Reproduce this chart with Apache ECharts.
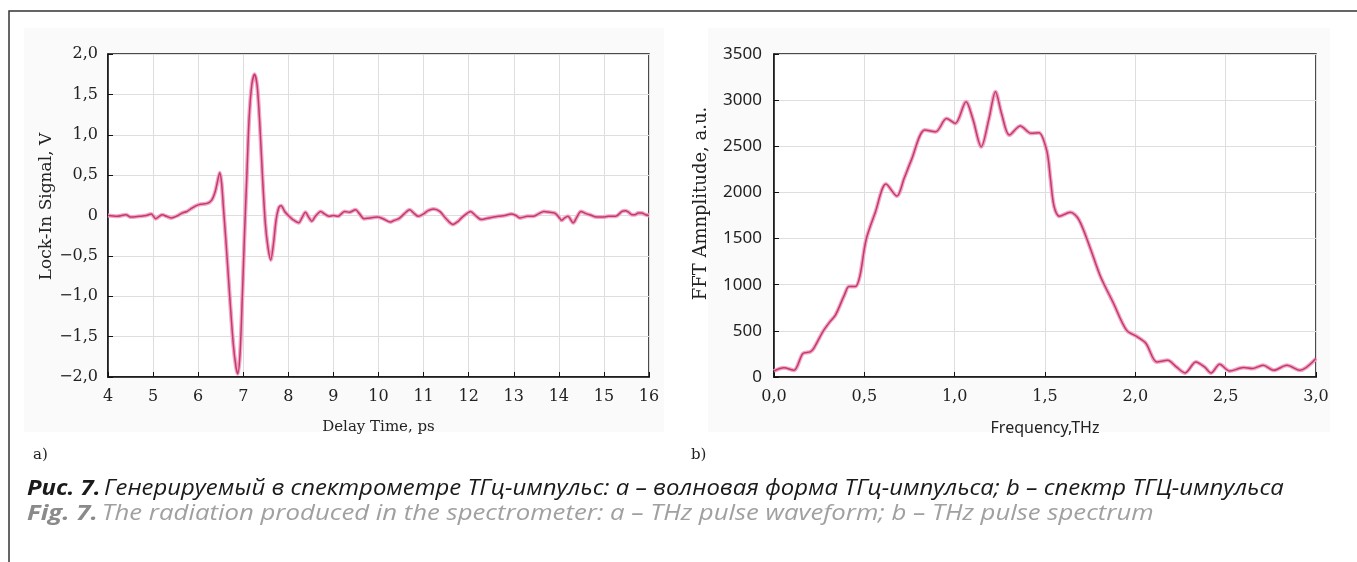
<!DOCTYPE html>
<html>
<head>
<meta charset="utf-8">
<script src="https://cdn.jsdelivr.net/npm/echarts@6/dist/echarts.min.js"></script>
<style>
  html, body { margin: 0; padding: 0; background: #fff; }
  #main { width: 1357px; height: 562px; }
</style>
</head>
<body>
<div id="main"></div>
<script>
  // a) THz pulse waveform
  const delayTime = [4.0, 4.2, 4.4, 4.5, 4.7, 4.85, 4.96, 5.06, 5.2, 5.3, 5.4, 5.55, 5.64, 5.75, 5.83, 5.95, 6.05, 6.2, 6.3, 6.38,
    6.44, 6.48, 6.52, 6.56, 6.62, 6.7, 6.78, 6.84, 6.88, 6.93, 6.98, 7.03, 7.08, 7.13, 7.19, 7.25, 7.31, 7.37, 7.43, 7.49,
    7.55, 7.61, 7.67, 7.73, 7.79, 7.84, 7.92, 8.0, 8.1, 8.23, 8.3, 8.38, 8.45, 8.52, 8.6, 8.72, 8.8, 8.9, 9.0, 9.1,
    9.25, 9.35, 9.49, 9.58, 9.68, 9.8, 9.97, 10.1, 10.26, 10.35, 10.45, 10.57, 10.69, 10.8, 10.88, 11.0, 11.1, 11.22, 11.36, 11.5,
    11.65, 11.75, 11.84, 11.95, 12.04, 12.15, 12.28, 12.45, 12.66, 12.8, 12.95, 13.05, 13.14, 13.3, 13.43, 13.55, 13.67, 13.8, 13.91, 14.0,
    14.06, 14.13, 14.2, 14.32, 14.4, 14.49, 14.58, 14.68, 14.85, 14.97, 15.1, 15.26, 15.4, 15.48, 15.55, 15.62, 15.69, 15.76, 15.84, 15.92, 16.0];
  const lockInSignal = [0.0, -0.01, 0.01, -0.02, -0.01, 0.0, 0.02, -0.04, 0.01, -0.01, -0.03, 0.0, 0.03, 0.05, 0.08, 0.12, 0.14, 0.15, 0.19, 0.3,
    0.45, 0.53, 0.4, 0.1, -0.35, -1.0, -1.6, -1.88, -1.96, -1.7, -1.0, -0.2, 0.5, 1.2, 1.62, 1.75, 1.6, 1.1, 0.45, -0.1,
    -0.4, -0.55, -0.35, -0.05, 0.1, 0.12, 0.05, 0.0, -0.05, -0.09, -0.03, 0.04, -0.02, -0.07, -0.01, 0.05, 0.02, -0.01, 0.0, -0.01,
    0.05, 0.04, 0.07, 0.02, -0.04, -0.03, -0.02, -0.04, -0.08, -0.06, -0.04, 0.02, 0.07, 0.02, -0.01, 0.02, 0.06, 0.08, 0.05, -0.04,
    -0.11, -0.08, -0.03, 0.02, 0.05, 0.0, -0.05, -0.03, -0.01, 0.0, 0.02, 0.0, -0.03, -0.01, -0.01, 0.02, 0.05, 0.04, 0.03, -0.02,
    -0.06, -0.03, -0.01, -0.09, -0.02, 0.05, 0.03, 0.01, -0.02, -0.02, -0.01, -0.01, 0.05, 0.06, 0.04, 0.01, 0.01, 0.03, 0.03, 0.01, 0.0];

  // b) THz pulse spectrum
  const frequency = [0.0, 0.055, 0.11, 0.16, 0.2, 0.22, 0.27, 0.31, 0.34, 0.39, 0.415, 0.45, 0.475, 0.51, 0.56, 0.62, 0.68, 0.72, 0.76, 0.835,
    0.895, 0.955, 1.003, 1.063, 1.1, 1.147, 1.19, 1.226, 1.26, 1.303, 1.363, 1.423, 1.466, 1.51, 1.53, 1.55, 1.58, 1.64, 1.687, 1.747,
    1.807, 1.879, 1.951, 2.011, 2.059, 2.119, 2.179, 2.227, 2.275, 2.335, 2.383, 2.419, 2.467, 2.522, 2.599, 2.647, 2.707, 2.767, 2.839, 2.911, 3.0];
  const fftAmplitude = [65, 100, 73, 255, 272, 310, 490, 600, 670, 890, 980, 980, 1090, 1490, 1780, 2090, 1960, 2150, 2350, 2676,
    2658, 2800, 2748, 2983, 2800, 2495, 2800, 3091, 2850, 2621, 2720, 2640, 2647, 2450, 2150, 1850, 1742, 1786, 1706, 1415,
    1089, 799, 508, 436, 363, 163, 181, 109, 44, 163, 109, 44, 138, 65, 102, 91, 127, 73, 127, 73, 200];

  const waveData = delayTime.map((t, i) => [t, lockInSignal[i]]);
  const spectrumData = frequency.map((f, i) => [f, fftAmplitude[i]]);

  const serif = 'DejaVu Serif';
  const sans = 'Noto Sans';

  function commaNum(v) {
    if (v === 0) return '0';
    return (v < 0 ? '\u2212' : '') + Math.abs(v).toFixed(1).replace('.', ',');
  }

  const axisCommon = {
    axisLine: {onZero: false, lineStyle: {color: '#111', width: 1.5}},
    axisTick: {inside: true, length: 5, lineStyle: {color: '#111'}},
    splitLine: {show: true, lineStyle: {color: '#dedede', width: 1}},
    nameLocation: 'middle'
  };

  const myChart = echarts.init(document.getElementById('main'));
  myChart.setOption({
    animation: false,
    grid: [
      {left: 108, top: 54, width: 541, height: 323, show: true, borderColor: '#111', borderWidth: 1.5, backgroundColor: '#fff'},
      {left: 774, top: 54, width: 542, height: 323, show: true, borderColor: '#111', borderWidth: 1.5, backgroundColor: '#fff'}
    ],
    xAxis: [
      Object.assign({}, axisCommon, {
        gridIndex: 0, type: 'value', min: 4, max: 16, interval: 1,
        name: 'Delay Time, ps', nameGap: 43,
        nameTextStyle: {fontFamily: serif, fontSize: 15, color: '#222'},
        axisLabel: {fontFamily: serif, fontSize: 16, color: '#222', margin: 12}
      }),
      Object.assign({}, axisCommon, {
        gridIndex: 1, type: 'value', min: 0, max: 3, interval: 0.5,
        name: 'Frequency,THz', nameGap: 43,
        nameTextStyle: {fontFamily: sans, fontSize: 16, color: '#222'},
        axisLabel: {fontFamily: serif, fontSize: 16, color: '#222', margin: 12,
          formatter: v => v.toFixed(1).replace('.', ',')}
      })
    ],
    yAxis: [
      Object.assign({}, axisCommon, {
        gridIndex: 0, type: 'value', min: -2, max: 2, interval: 0.5,
        name: 'Lock-In Signal, V', nameGap: 52,
        nameTextStyle: {fontFamily: serif, fontSize: 17, color: '#222', padding: [0, 0, 0, 18]},
        axisLabel: {fontFamily: serif, fontSize: 16, color: '#222', margin: 10, formatter: commaNum}
      }),
      Object.assign({}, axisCommon, {
        gridIndex: 1, type: 'value', min: 0, max: 3500, interval: 500,
        name: 'FFT Amnplitude, a.u.', nameGap: 64,
        nameTextStyle: {fontFamily: serif, fontSize: 18, color: '#222', padding: [0, 0, 0, 24]},
        axisLabel: {fontFamily: sans, fontSize: 17, color: '#222', margin: 12, formatter: v => String(v)}
      })
    ],
    series: [
      {type: 'line', xAxisIndex: 0, yAxisIndex: 0, data: waveData, smooth: 0.3, showSymbol: false,
        lineStyle: {color: '#f2a6c4', width: 4}},
      {type: 'line', xAxisIndex: 0, yAxisIndex: 0, data: waveData, smooth: 0.3, showSymbol: false,
        lineStyle: {color: '#c23a70', width: 1.5}},
      {type: 'line', xAxisIndex: 1, yAxisIndex: 1, data: spectrumData, smooth: 0.3, showSymbol: false,
        lineStyle: {color: '#f2a6c4', width: 4}},
      {type: 'line', xAxisIndex: 1, yAxisIndex: 1, data: spectrumData, smooth: 0.3, showSymbol: false,
        lineStyle: {color: '#c23a70', width: 1.5}}
    ],
    graphic: [
      {type: 'polyline', z: -1, shape: {points: [[9, 562], [9, 11], [1357, 11]]},
        style: {stroke: '#333', lineWidth: 1.5, fill: null}},
      {type: 'rect', z: -2, shape: {x: 24, y: 28, width: 640, height: 404}, style: {fill: '#fafafa'}},
      {type: 'rect', z: -2, shape: {x: 708, y: 28, width: 622, height: 404}, style: {fill: '#fafafa'}},
      {type: 'text', left: 33, top: 448, style: {text: 'a)', font: '15px "DejaVu Serif"', fill: '#222'}},
      {type: 'text', left: 691, top: 448, style: {text: 'b)', font: '15px "DejaVu Serif"', fill: '#222'}},
      {type: 'text', x: 27, y: 478, scaleX: 1.085,
        style: {
          text: '{b|Рис. 7.} {n|Генерируемый в спектрометре ТГц-импульс: a – волновая форма ТГц-импульса; b – спектр ТГЦ-импульса}',
          rich: {
            b: {fontFamily: 'Open Sans', fontStyle: 'italic', fontWeight: 'bold', fontSize: 22, fill: '#1a1a1a'},
            n: {fontFamily: 'Open Sans', fontStyle: 'italic', fontSize: 22, fill: '#1a1a1a'}
          }
        }},
      {type: 'text', x: 27, y: 503, scaleX: 1.17,
        style: {
          text: '{b|Fig. 7.} {n|The radiation produced in the spectrometer: a – THz pulse waveform; b – THz pulse spectrum}',
          rich: {
            b: {fontFamily: 'Open Sans', fontStyle: 'italic', fontWeight: 'bold', fontSize: 22, fill: '#8a8a8a'},
            n: {fontFamily: 'Open Sans', fontStyle: 'italic', fontSize: 22, fill: '#a0a0a0'}
          }
        }}
    ]
  });
</script>
</body>
</html>
